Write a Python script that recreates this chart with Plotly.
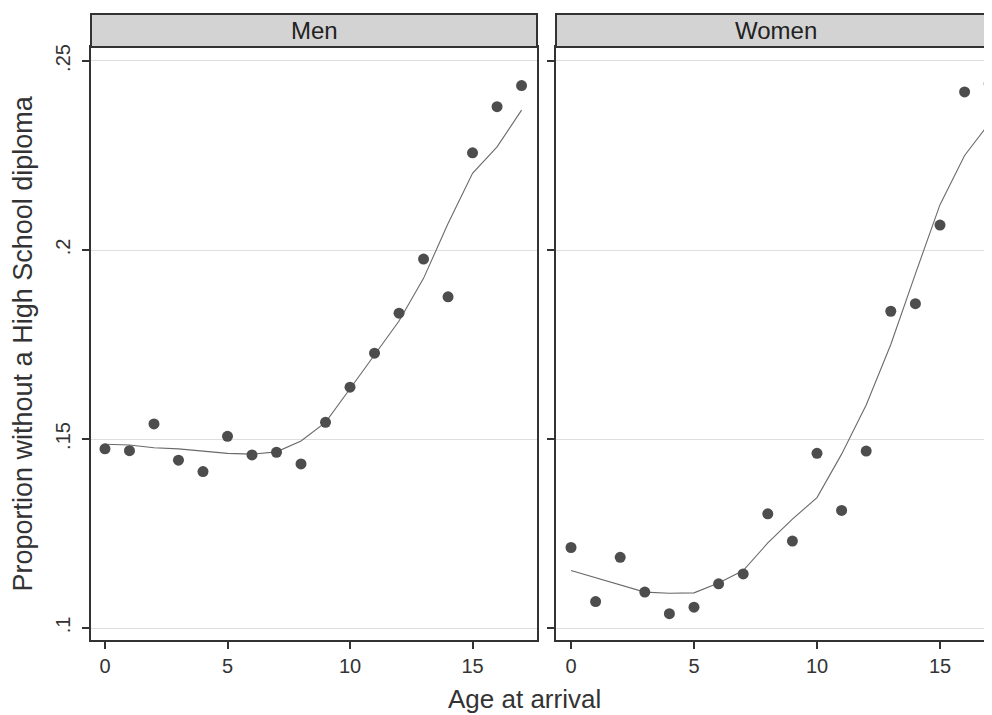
import plotly.graph_objects as go

ages = list(range(18))

men_points = [0.1474, 0.1469, 0.1540, 0.1444, 0.1414, 0.1507, 0.1458, 0.1465, 0.1434,
              0.1544, 0.1637, 0.1727, 0.1833, 0.1976, 0.1876, 0.2257, 0.2379, 0.2435]
men_smooth = [0.1486, 0.1484, 0.1477, 0.1474, 0.1468, 0.1462, 0.1460, 0.1466, 0.1495,
              0.1544, 0.1633, 0.1721, 0.1812, 0.1925, 0.2070, 0.2203, 0.2273, 0.2370]

women_points = [0.1213, 0.1070, 0.1187, 0.1095, 0.1038, 0.1055, 0.1117, 0.1143, 0.1302,
                0.1230, 0.1462, 0.1311, 0.1468, 0.1838, 0.1858, 0.2066, 0.2418, 0.2440]
women_smooth = [0.1152, 0.1133, 0.1113, 0.1095, 0.1092, 0.1093, 0.1119, 0.1152, 0.1225,
                0.1288, 0.1345, 0.1460, 0.1590, 0.1750, 0.1937, 0.2120, 0.2250, 0.2335]

panel_titles = ["Men", "Women"]
x_tickvals = [0, 5, 10, 15]
x_ticktext = ["0", "5", "10", "15"]
y_tickvals = [0.10, 0.15, 0.20, 0.25]
y_ticktext = [".1", ".15", ".2", ".25"]
x_title = "Age at arrival"
y_title = "Proportion without a High School diploma"

FONT = "Liberation Sans, Arial, sans-serif"
MARKER = "#4d4d4d"
LINE = "#6a6a6a"
AXIS = "#333333"
GRID = "#dedede"

# page has an 8px body margin; figure coordinates = page coordinates - 8
OFF = 8
W, H = 992 - 2 * OFF, 715 - OFF
ML, MR, MT = 91 - OFF, 0, 47 - OFF
MB = H - (640 - OFF)
PW = W - ML - MR
PH = H - MT - MB
RIGHT_PAGE = OFF + W  # right edge of visible figure in page px

fig = go.Figure()
for i, (pts, sm) in enumerate([(men_points, men_smooth), (women_points, women_smooth)]):
    xa = "x" if i == 0 else "x2"
    ya = "y" if i == 0 else "y2"
    fig.add_trace(go.Scatter(x=ages, y=sm, mode="lines", xaxis=xa, yaxis=ya,
                             line=dict(color=LINE, width=1.1), showlegend=False))
    fig.add_trace(go.Scatter(x=ages, y=pts, mode="markers", xaxis=xa, yaxis=ya,
                             marker=dict(color=MARKER, size=11, line=dict(width=0)),
                             showlegend=False))

d1 = [0, (537 - 91) / PW]
d2 = [(556 - 91) / PW, 1.0]
yr = [0.09683, 0.2537]
# women axis keeps the reference scale (24.6 px per year, 0 at page x=571)
w_right = (RIGHT_PAGE - 571) / 24.6

common_x = dict(tickvals=x_tickvals, ticktext=x_ticktext, ticks="outside", ticklen=7,
                tickwidth=1.5, tickcolor=AXIS, showline=True, linecolor=AXIS, linewidth=2,
                mirror=True, showgrid=False, zeroline=False,
                tickfont=dict(family=FONT, size=20, color="#333333"))
common_y = dict(tickvals=y_tickvals, ticktext=y_ticktext, ticks="outside", ticklen=7,
                tickwidth=1.5, tickcolor=AXIS, showline=True, linecolor=AXIS, linewidth=2,
                mirror=True, showgrid=True, gridcolor=GRID, gridwidth=1, zeroline=False,
                range=yr, tickangle=-90, ticklabelstandoff=4,
                tickfont=dict(family=FONT, size=20, color="#333333"))

fig.update_layout(
    width=W, height=H,
    margin=dict(l=ML, r=MR, t=MT, b=MB, autoexpand=False),
    paper_bgcolor="white", plot_bgcolor="white",
    xaxis=dict(domain=d1, range=[-0.57, 17.63], anchor="y", **common_x),
    xaxis2=dict(domain=d2, range=[-0.61, w_right], anchor="y2", **common_x),
    yaxis=dict(domain=[0, 1], anchor="x", **common_y),
    yaxis2=dict(domain=[0, 1], anchor="x2", showticklabels=False, **common_y),
)

strip_top = 1 + (47 - 14) / PH
for dom, title, cx in zip([d1, d2], panel_titles, [314, 776]):
    fig.add_shape(type="rect", xref="paper", yref="paper", x0=dom[0], x1=dom[1] + (0.01 if dom[1] == 1.0 else 0),
                  y0=1, y1=strip_top, fillcolor="#d3d3d3",
                  line=dict(color=AXIS, width=2), layer="above")
    fig.add_annotation(xref="paper", yref="paper", x=(cx - 91) / PW,
                       y=(1 + strip_top) / 2, text=title, showarrow=False,
                       xanchor="center", yanchor="middle",
                       font=dict(family=FONT, size=24, color="#222222"))

fig.add_annotation(xref="paper", yref="paper", x=(22 - 91) / PW, y=0.5,
                   text=y_title, textangle=-90, showarrow=False,
                   xanchor="center", yanchor="middle",
                   font=dict(family=FONT, size=27, color="#333333"))
fig.add_annotation(xref="paper", yref="paper", x=(524 - 91) / PW, y=-(699 - 640) / PH,
                   text=x_title, showarrow=False, xanchor="center", yanchor="middle",
                   font=dict(family=FONT, size=26, color="#333333"))

fig.write_html("out.html")
